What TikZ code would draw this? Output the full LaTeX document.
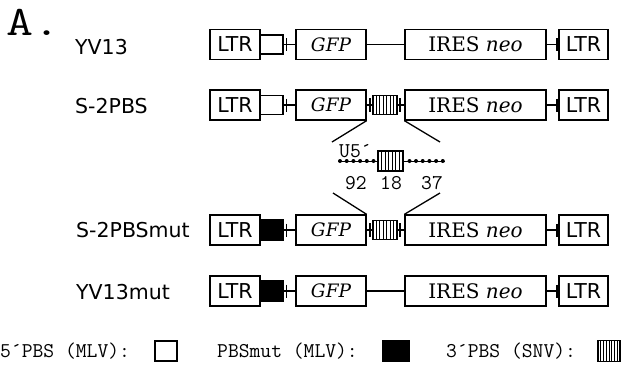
\documentclass[tikz,border=0pt]{standalone}
\usepackage{fontspec}
\usetikzlibrary{calc}
\newfontfamily\vsans{DejaVu Sans}
\newfontfamily\vserif{DejaVu Serif}
\begin{document}
\begin{tikzpicture}[x=1pt,y=-1pt,
  bx/.style={draw, line width=1.3pt, inner sep=0pt, minimum height=30pt},
  ln/.style={line width=1.3pt},
  ltrfont/.style={font=\vsans\fontsize{20.5}{20.5}\selectfont},
  lab/.style={anchor=west, inner sep=0pt, font=\vsans\fontsize{20.5}{20.5}\selectfont},
  mono/.style={inner sep=0pt, font=\ttfamily\fontsize{21}{21}\selectfont},
  pbsbox/.style={draw, line width=1.3pt, inner sep=0pt, minimum width=23pt, minimum height=19pt},
  stripebox/.style={draw, line width=1.2pt, inner sep=0pt, path picture={
    \foreach \i in {1,...,#1} {
      \draw[line width=1pt]
        ($(path picture bounding box.north west)!{\i/(#1+1)}!(path picture bounding box.north east)$) --
        ($(path picture bounding box.south west)!{\i/(#1+1)}!(path picture bounding box.south east)$);
    }}},
  dotmark/.style={fill, circle, inner sep=0pt, minimum size=4pt}]
\useasboundingbox (0,0) rectangle (622,373);

% panel letter
\node[anchor=base west, inner sep=0pt, font=\ttfamily\fontsize{42}{42}\selectfont] (letter) at (6,35) {\scalebox{1.25}[1]{A.}};

% row labels
\node[lab] (l1) at (75,47) {YV13};
\node[lab] (l2) at (75,106) {S-2PBS};
\node[lab] (l3) at (76,230) {S-2PBSmut};
\node[lab] (l4) at (76,292) {YV13mut};

% common parts of each row
\foreach \r/\c in {1/44.5, 2/105, 3/230, 4/291} {
  \node[bx, minimum width=50pt, ltrfont] (ltrL\r) at (235,\c) {LTR};
  \node[bx, minimum width=70pt, font=\vserif\itshape\fontsize{18.5}{18.5}\selectfont] (gfp\r) at (331,\c) {GFP};
  \node[bx, minimum width=141pt, font=\vserif\fontsize{20}{20}\selectfont] (ires\r) at (475.5,\c) {IRES {\itshape neo}};
  \node[bx, minimum width=49pt, ltrfont] (ltrR\r) at (583.5,\c) {LTR};
  \draw[ln] (ires\r.east) -- (ltrR\r.west);
  \draw[ln] ([xshift=-1.5pt]ltrR\r.west) ++(0,-6.5) -- ++(0,13);
}

% 5' PBS boxes
\node[pbsbox, fill=white] (pbs1) at (271.5,44.5) {};
\node[pbsbox, fill=white] (pbs2) at (271.5,105) {};
\node[pbsbox, fill=black, minimum height=20pt] (pbs3) at (271.5,230) {};
\node[pbsbox, fill=black, minimum height=20pt] (pbs4) at (271.5,291) {};
\foreach \r in {1,2,3,4} {
  \draw[ln] (pbs\r.east) -- (gfp\r.west);
  \draw[ln] ([xshift=3pt]pbs\r.east) ++(0,-6.5) -- ++(0,13);
}

% GFP -> IRES direct
\draw[ln] (gfp1.east) -- (ires1.west);
\draw[ln] (gfp4.east) -- (ires4.west);

% 3' PBS inserts
\node[stripebox=6, minimum width=24pt, minimum height=19pt] (str2) at (385,105) {};
\node[stripebox=6, minimum width=24pt, minimum height=19pt] (str3) at (385,230) {};
\foreach \r in {2,3} {
  \draw[ln] (gfp\r.east) -- (str\r.west);
  \draw[ln] (str\r.east) -- (ires\r.west);
  \draw[ln] ([xshift=-2.5pt]str\r.west) ++(0,-7) -- ++(0,14);
  \draw[ln] ([xshift=2.5pt]str\r.east) ++(0,-7) -- ++(0,14);
}

% expansion lines
\coordinate (eUL) at (332,142);
\coordinate (eUR) at (440,142);
\coordinate (eLL) at (333,193);
\coordinate (eLR) at (440,193);
\draw[ln] (gfp2.south east) -- (eUL);
\draw[ln] (ires2.south west) -- (eUR);
\draw[ln] (eLL) -- (gfp3.north east);
\draw[ln] (eLR) -- (ires3.north west);

% detail
\node[stripebox=6, minimum width=25pt, minimum height=20pt] (strD) at (390.5,161) {};
\coordinate (dL) at (338,161);
\coordinate (dR) at (445,161);
\draw[line width=0.9pt] (dL) -- (strD.west);
\draw[line width=0.9pt] (strD.east) -- (dR);
\foreach \x in {340,346.7,353.4,360.1,366.8,373.5,409.5,416,422.7,429.4,436.1,442.8}
  \node[dotmark] at (\x,161) {};
\node[mono, anchor=base west] (u5) at (339,157) {U5´};
\node[mono] (n92) at (356,183) {92};
\node[mono] (n18) at (391,183) {18};
\node[mono] (n37) at (432,183) {37};

% legend
\node[mono, anchor=west] (leg1) at (0,351) {5´PBS  (MLV):};
\node[pbsbox, fill=white, minimum width=22pt, minimum height=20pt] (lb1) at (166,351) {};
\node[mono, anchor=west] (leg2) at (217,351) {PBSmut (MLV):};
\node[pbsbox, fill=black, minimum width=26pt, minimum height=21pt] (lb2) at (396,351) {};
\node[mono, anchor=west] (leg3) at (446,351) {3´PBS  (SNV):};
\node[stripebox=7, minimum width=22pt, minimum height=21pt] (lb3) at (609,351) {};
\end{tikzpicture}
\end{document}
